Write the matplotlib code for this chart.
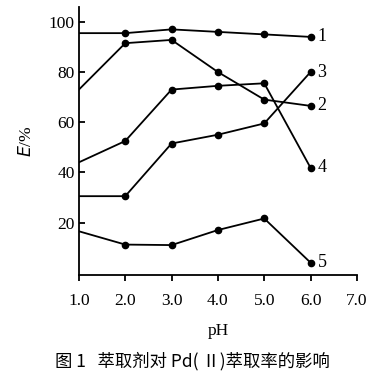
import numpy as np
import matplotlib.pyplot as plt

plt.rcParams['font.family'] = ['Liberation Serif', 'Noto Sans CJK SC', 'DejaVu Sans']

# data
ph = [1.0, 2.0, 3.0, 4.0, 5.0, 6.0]
curve1 = [95.5, 95.5, 97.0, 96.0, 95.0, 94.0]
curve2 = [73.0, 91.5, 92.8, 80.0, 69.0, 66.5]
curve3 = [30.5, 30.5, 51.5, 55.0, 59.5, 80.0]
curve4 = [44.0, 52.5, 73.0, 74.5, 75.5, 41.8]
curve5 = [16.5, 11.2, 11.0, 17.0, 21.6, 4.0]
curves = [curve1, curve2, curve3, curve4, curve5]
names = ['1', '2', '3', '4', '5']
xticks = [1.0, 2.0, 3.0, 4.0, 5.0, 6.0, 7.0]
yticks = [20, 40, 60, 80, 100]

fig = plt.figure(figsize=(3.85, 3.78), dpi=100)
ax = fig.add_axes([0.205, 0.272, 0.722, 0.71])

for y, name in zip(curves, names):
    ax.plot(ph, y, color='black', lw=1.3)
    ax.plot(ph[1:], y[1:], 'o', color='black', ms=4.5)
    ax.annotate(name, (ph[-1], y[-1]), xytext=(5, 0), textcoords='offset points',
                va='center', ha='left', fontsize=13)

ax.set_xlim(1.0, 7.0)
ax.set_ylim(-1, 106)
ax.set_xticks(xticks)
ax.set_xticklabels(['%.1f' % v for v in xticks])
ax.set_yticks(yticks)
ax.tick_params(axis='x', direction='out', length=4, width=1.3, labelsize=12.5, pad=9)
ax.tick_params(axis='y', direction='in', length=4, width=1.3, labelsize=12.5, pad=3)
ax.spines['top'].set_visible(False)
ax.spines['right'].set_visible(False)
ax.spines['left'].set_linewidth(1.3)
ax.spines['bottom'].set_linewidth(1.3)

ax.set_xlabel('pH', fontsize=12.5, labelpad=10)
ax.set_ylabel(r'$E$/%', fontsize=12.5, labelpad=10)
fig.text(0.5, 0.045, '图 1   萃取剂对 Pd( Ⅱ)萃取率的影响', ha='center', va='center',
         fontsize=12.5, family=['Noto Sans CJK SC', 'DejaVu Sans'])

fig.savefig('out.png', dpi=100)
